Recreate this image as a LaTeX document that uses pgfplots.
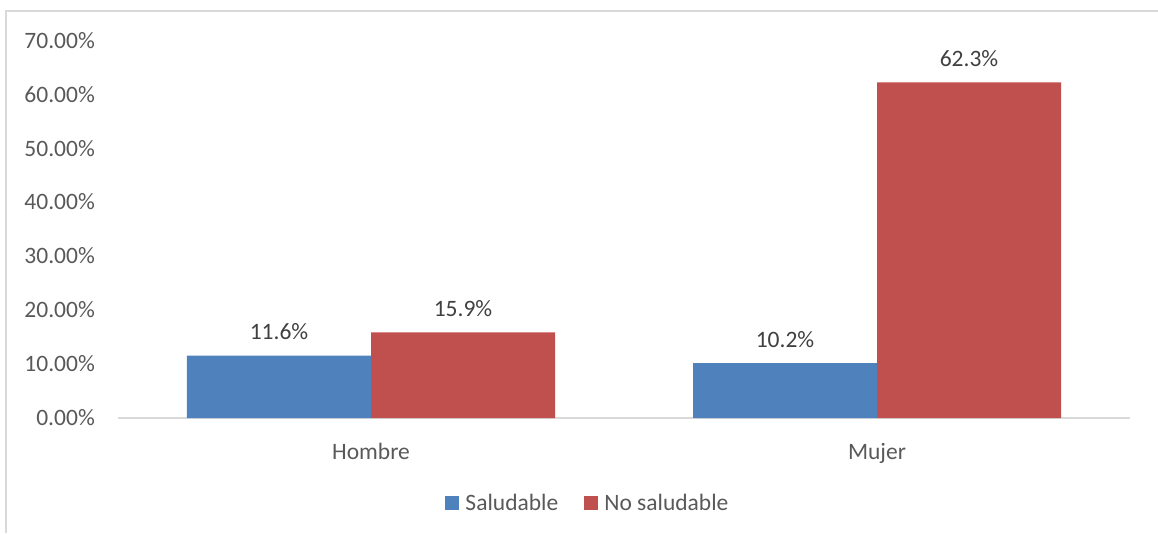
\documentclass[border=0pt]{standalone}
\usepackage{pgfplots}
\pgfplotsset{compat=1.18}
\usepackage{fontspec}
\setmainfont{Carlito}
\definecolor{sblue}{HTML}{4F81BD}
\definecolor{sred}{HTML}{C0504D}
\definecolor{txt}{HTML}{595959}
\definecolor{lbl}{HTML}{404040}
\definecolor{gridc}{HTML}{D9D9D9}
\newcommand{\cf}{\fontsize{23.5}{28}\selectfont}
\begin{document}
\begin{tikzpicture}
\begin{axis}[
  at={(0pt,0pt)}, anchor=south west,
  scale only axis, width=1012pt, height=377pt,
  xmin=-0.5, xmax=1.5, ymin=0, ymax=70,
  axis x line*=bottom, axis y line*=left,
  x axis line style={draw=gridc, line width=1.2pt, -},
  y axis line style={draw=none},
  xtick={0,1}, xticklabels={Hombre,Mujer},
  ytick={0,10,...,70},
  major tick length=0pt,
  /pgf/number format/assume math mode=true,
  yticklabel={\pgfmathprintnumber[fixed,fixed zerofill,precision=2]{\tick}\%},
  yticklabel style={font=\cf, text=txt, inner sep=0pt, anchor=base east, xshift=-23pt, yshift=-7.3pt},
  xticklabel style={font=\cf, text=txt, inner sep=0pt, anchor=base, yshift=-41pt},
  ybar=0pt, bar width=184pt,
  nodes near coords={\pgfmathprintnumber[fixed,fixed zerofill,precision=1]{\pgfplotspointmeta}\%},
  nodes near coords style={font=\cf, text=lbl, inner sep=0pt, anchor=base, yshift=16pt},
  legend style={at={(axis description cs:0.4634,-0.2255)}, anchor=center, draw=none, fill=none,
    font=\cf, text=txt, legend columns=2,
    /tikz/every even column/.append style={column sep=26pt},
    nodes={inner sep=0pt}},
  legend image code/.code={\fill[#1] (0pt,-7pt) rectangle (14pt,7pt); \path (20pt,0pt);},
]
\addplot[fill=sblue, draw=none] coordinates {(0,11.6) (1,10.2)};
\addplot[fill=sred, draw=none] coordinates {(0,15.9) (1,62.3)};
\legend{Saludable, No saludable}
\end{axis}
\draw[gridc, line width=1.2pt] (-112pt,-115pt) -- (-112pt,407pt) -- (1040pt,407pt);
\pgfresetboundingbox
\path[use as bounding box] (-118pt,-115pt) rectangle (1040pt,418pt);
\end{tikzpicture}
\end{document}
